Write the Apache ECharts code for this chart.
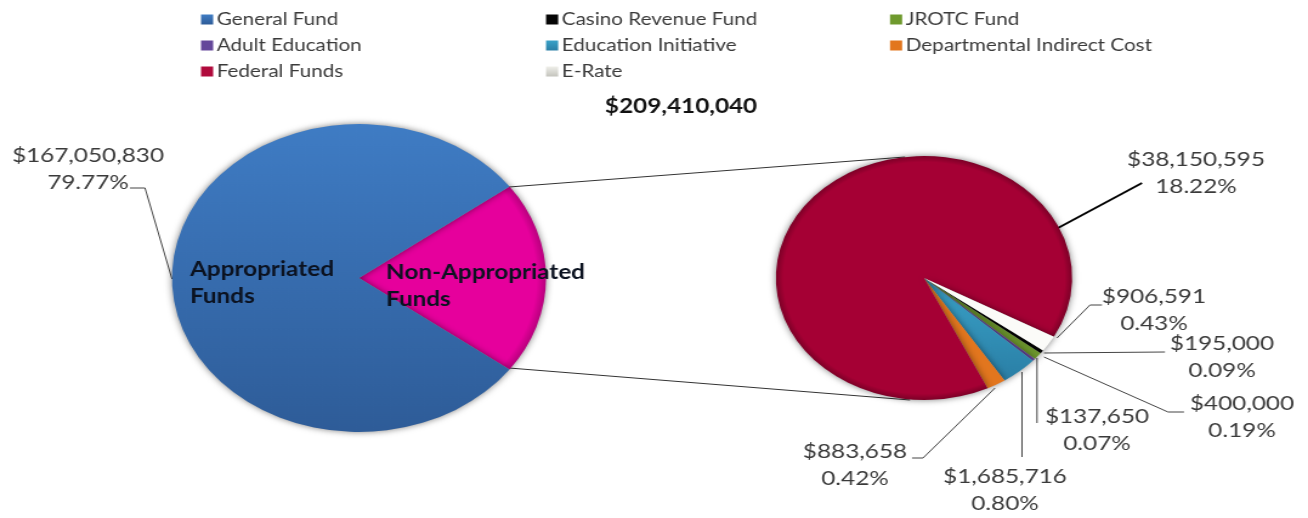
<!DOCTYPE html>
<html>
<head>
<meta charset="utf-8">
<style>
  html, body { margin: 0; background: #fff; overflow: hidden; }
  /* the source picture is a stretched screenshot, so draw round pies and widen the whole chart */
  #main { width: 1077px; height: 518px; transform: scaleX(1.2145); transform-origin: 0 0; }
</style>
<script src="https://cdn.jsdelivr.net/npm/echarts@6/dist/echarts.min.js"></script>
</head>
<body>
<div id="main"></div>
<script>
const SX = 1.2145;
const FONT = 'Lato';

const grandTotal = 209410040;

const mainNames = ['Non-Appropriated Funds', 'General Fund'];
const mainValues = [42359210, 167050830];

const detailNames = ['Casino Revenue Fund', 'JROTC Fund', 'Adult Education', 'Education Initiative', 'Departmental Indirect Cost', 'Federal Funds', 'E-Rate'];
const detailValues = [195000, 400000, 137650, 1685716, 883658, 38150595, 906591];

const legendCol1 = ['General Fund', 'Adult Education', 'Federal Funds'];
const legendCol2 = ['Casino Revenue Fund', 'Education Initiative', 'E-Rate'];
const legendCol3 = ['JROTC Fund', 'Departmental Indirect Cost'];

// label centre and leader line, in pixels of the 1308 wide picture
const mainSpots = {
  'General Fund': { at: [88, 169], line: [[172, 279], [145, 188], [130, 188]] }
};
const detailSpots = {
  'Casino Revenue Fund': { at: [1222, 357], line: [[1044, 353], [1165, 352]] },
  'JROTC Fund': { at: [1242, 417], line: [[1044, 357], [1168, 412], [1184, 412]] },
  'Adult Education': { at: [1097, 430], line: [[1037, 358], [1037, 423]] },
  'Education Initiative': { at: [1005, 490], line: [[1022, 372], [1022, 457]] },
  'Departmental Indirect Cost': { at: [855, 465], line: [[995, 388], [923, 458], [912, 458]] },
  'Federal Funds': { at: [1196, 173], line: [[1058, 228], [1142, 183]] },
  'E-Rate': { at: [1154, 310], line: [[1057, 338], [1090, 305], [1102, 305]] }
};

const toPx = (p) => [p[0] / SX, p[1]];

const vGrad = (a, b) => new echarts.graphic.LinearGradient(0, 0, 0, 1, [{ offset: 0, color: a }, { offset: 1, color: b }]);
// darker rim on the pie edge, centred on the pie itself
const rimGrad = (cx, cy, r, a, b) => {
  const c = toPx([cx, cy]);
  return new echarts.graphic.RadialGradient(c[0], c[1], r, [
    { offset: 0, color: a }, { offset: 0.95, color: a }, { offset: 1, color: b }
  ], true);
};

const sliceColors = {
  'General Fund': vGrad('#3f7cc4', '#2e5c98'),
  'Non-Appropriated Funds': rimGrad(359, 278, 154, '#e6009c', '#b8007d'),
  'Casino Revenue Fund': '#050505',
  'JROTC Fund': '#6f9a2e',
  'Adult Education': '#64479a',
  'Education Initiative': vGrad('#3aa2c8', '#2a7fa6'),
  'Departmental Indirect Cost': '#e2761e',
  'Federal Funds': rimGrad(924, 278, 122, '#a50034', '#7c0027'),
  'E-Rate': '#fbfbf8'
};

// legend keys that can't reuse the slice fill
const legendKeys = {
  'Federal Funds': '#b00a3c',
  'E-Rate': vGrad('#efefea', '#c4c4bd')
};

function labelText(value) {
  const pct = (value / grandTotal * 100).toFixed(2);
  return '$' + value.toLocaleString('en-US') + '\n' + pct + '%';
}

function toItems(names, values, spots) {
  return names.map((name, i) => ({
    name,
    value: values[i],
    itemStyle: { color: sliceColors[name] },
    label: { show: !!spots[name] },
    labelLine: {
      show: !!spots[name],
      lineStyle: name === 'Federal Funds' ? { color: '#000', width: 2 } : { color: '#444', width: 1 }
    }
  }));
}

function placeLabel(spots, names) {
  return (params) => {
    const spot = spots[names[params.dataIndex]];
    if (!spot) return {};
    const at = toPx(spot.at);
    return {
      x: at[0],
      y: at[1],
      align: 'center',
      verticalAlign: 'middle',
      labelLinePoints: spot.line.map(toPx)
    };
  };
}

function pieSeries(name, center, radius, startAngle, names, values, spots) {
  return {
    name,
    type: 'pie',
    center,
    radius,
    startAngle,
    clockwise: true,
    avoidLabelOverlap: false,
    minShowLabelAngle: 0,
    silent: true,
    data: toItems(names, values, spots),
    itemStyle: { shadowBlur: 6, shadowColor: 'rgba(0,0,0,0.5)' },
    label: {
      position: 'outside',
      formatter: (p) => labelText(p.value),
      fontFamily: FONT,
      fontSize: 20,
      lineHeight: 27,
      color: '#3a3a3a'
    },
    labelLayout: placeLabel(spots, names)
  };
}

function legendCol(names, left) {
  return {
    data: names.map((name) => legendKeys[name] ? { name, itemStyle: { color: legendKeys[name] } } : name),
    left,
    top: 11,
    orient: 'vertical',
    itemWidth: 10,
    itemHeight: 10,
    itemGap: 9,
    selectedMode: false,
    padding: 0,
    icon: 'rect',
    textStyle: { fontFamily: FONT, fontSize: 17, color: '#3a3a3a', padding: [0, 0, 0, -2] }
  };
}

function connector(a, b) {
  const p = toPx(a), q = toPx(b);
  return { type: 'line', shape: { x1: p[0], y1: p[1], x2: q[0], y2: q[1] }, style: { stroke: '#333', lineWidth: 1 } };
}

function innerText(text, at) {
  const p = toPx(at);
  return {
    type: 'text', x: p[0], y: p[1], z: 10,
    style: { text, fontFamily: FONT, fontWeight: 'bold', fontSize: 20, lineHeight: 27, fill: '#0b1220', textVerticalAlign: 'top' }
  };
}

const chart = echarts.init(document.getElementById('main'));
chart.setOption({
  animation: false,
  title: {
    text: '$209,410,040',
    left: 675 / SX,
    top: 92,
    textAlign: 'center',
    textStyle: { fontFamily: FONT, fontWeight: 'bold', fontSize: 20, color: '#111' }
  },
  legend: [legendCol(legendCol1, 201 / SX), legendCol(legendCol2, 546 / SX), legendCol(legendCol3, 890 / SX)],
  graphic: [
    connector([509, 187], [905, 157]),
    connector([509, 368], [910, 400]),
    innerText('Appropriated\nFunds', [190, 256]),
    innerText('Non-Appropriated\nFunds', [386, 259])
  ],
  series: [
    pieSeries('Funds', [359 / SX, 278], 154, 36.4, mainNames, mainValues, mainSpots),
    pieSeries('Non-Appropriated', [924 / SX, 278], 122, 323.5, detailNames, detailValues, detailSpots)
  ]
});
</script>
</body>
</html>
